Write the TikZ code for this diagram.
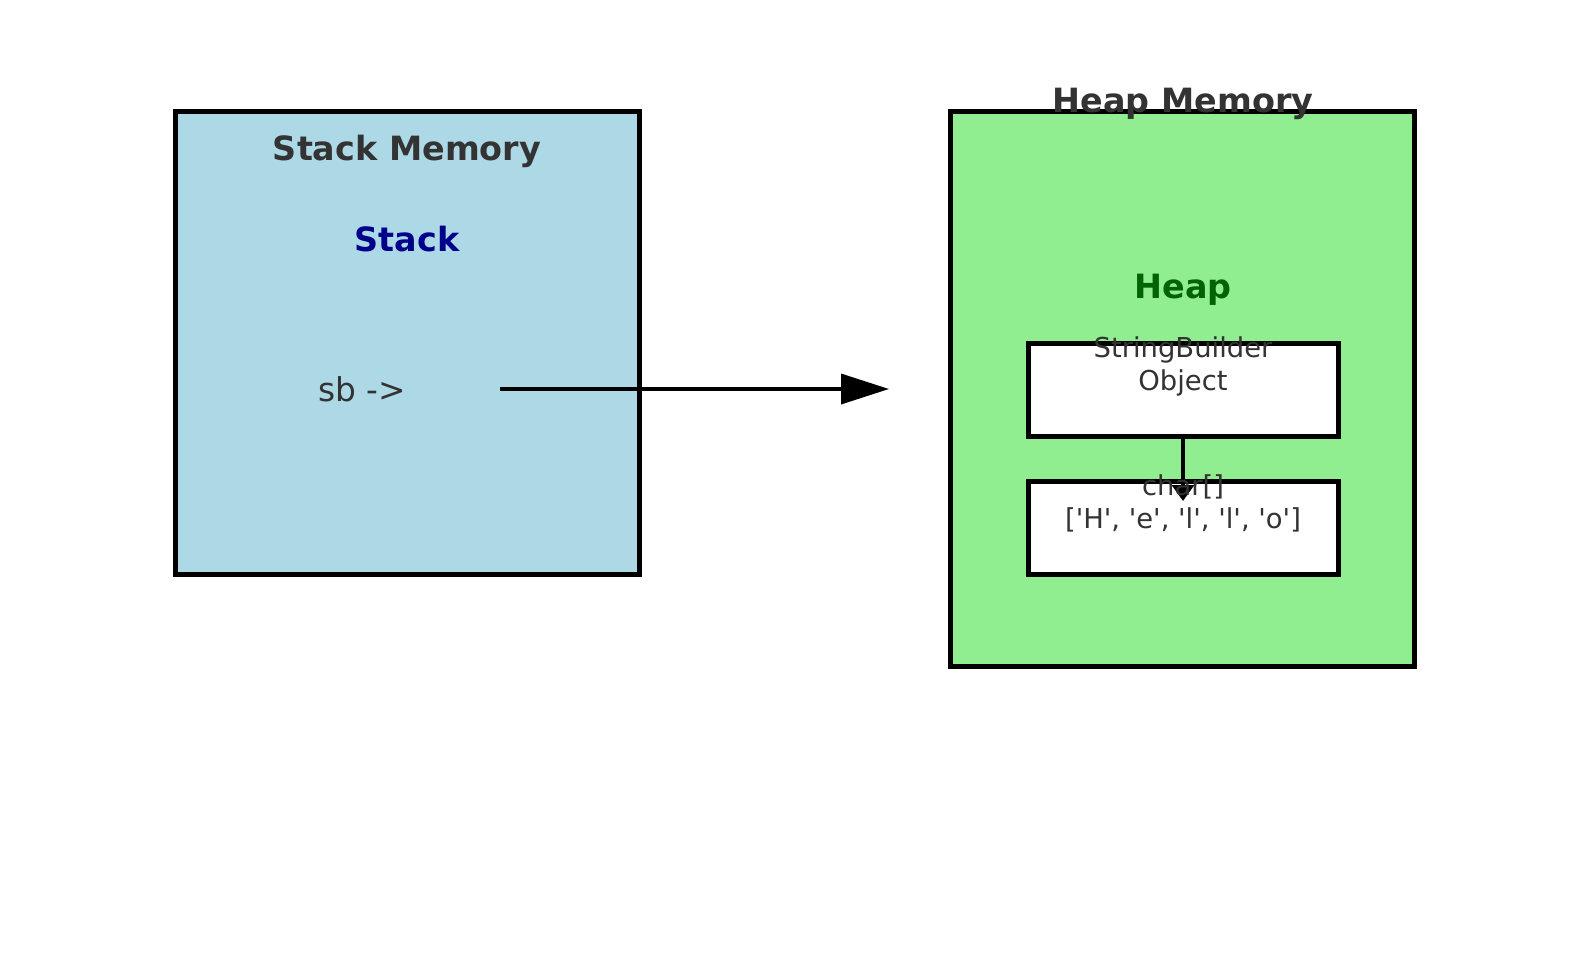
\documentclass[tikz,border=0pt]{standalone}
\usepackage{fontspec}
\setmainfont{DejaVu Sans}[Ligatures=TeXOff]
\usetikzlibrary{arrows.meta,positioning}
\definecolor{stackblue}{HTML}{ADD8E6}
\definecolor{heapgreen}{HTML}{90EE90}
\definecolor{labelgray}{HTML}{333333}
\definecolor{stackink}{HTML}{00008B}
\definecolor{heapink}{HTML}{006400}

\begin{document}
\begin{tikzpicture}[x=0.5pt, y=-0.5pt,
    membox/.style={draw, line width=2.5pt, minimum width=232pt, inner sep=0pt},
    objbox/.style={draw, fill=white, line width=2.5pt, minimum width=155pt, minimum height=46.5pt, inner sep=0pt},
    title/.style={text=labelgray, font=\fontsize{16.7}{20}\selectfont\bfseries},
    objtext/.style={text=labelgray, align=center, font=\fontsize{13.7}{16.5}\selectfont}]
    \useasboundingbox (0,0) rectangle (1589,964);

    % the two memory areas
    \node (stackbox) [membox, fill=stackblue, minimum height=231.5pt] at (407,342.5) {};
    \node (heapbox) [membox, fill=heapgreen, minimum height=277.5pt] at (1182.5,388.5) {};
    \node (sbobj) [objbox] at (1183,389.5) {};
    \node (chararr) [objbox] at (1183,527.5) {};

    % pointers
    \coordinate (ptrstart) at (500,389);
    \coordinate (ptrend) at (889,389);
    \coordinate (arrtip) at (1183,501);
    \draw[line width=1.75pt, -{Triangle[length=24pt, width=15pt]}] (ptrstart) -- (ptrend);
    \draw[line width=1.6pt, -{Triangle[length=8pt, width=11pt]}] (sbobj.south) -- (arrtip);

    % labels
    \node (stacktitle) [title] at (407,151) {Stack Memory};
    \node (stacklabel) [title, text=stackink] at (407,239) {Stack};
    \node (sbvar) [text=labelgray, font=\fontsize{16.4}{20}\selectfont] at (362,389) {sb ->};
    \node (heaptitle) [title] at (1183,104) {Heap Memory};
    \node (heaplabel) [title, text=heapink] at (1183,290) {Heap};
    \node (sbtext) [objtext] at (1183,366) {StringBuilder\\Object};
    \node (chartext) [objtext] at (1183,503) {char[]\\\relax['H', 'e', 'l', 'l', 'o']};
  \end{tikzpicture}
\end{document}
